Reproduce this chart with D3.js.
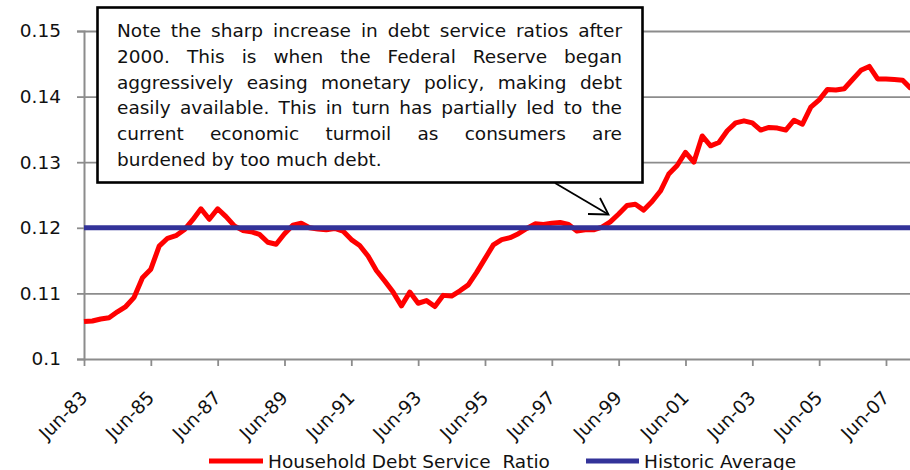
<!DOCTYPE html>
<html>
<head>
<meta charset="utf-8">
<script src="https://cdn.jsdelivr.net/npm/d3@7"></script>
<style>
  html, body { margin: 0; padding: 0; background: #fff; }
  svg { display: block; font-family: "DejaVu Sans", Verdana, sans-serif; }
</style>
</head>
<body>
<svg id="chart" width="910" height="470"></svg>
<script>
// ---------- data ----------
const startYear = 1983;          // first category: Jun-83, quarterly
const nPoints = 100;
const months = ["Mar", "Jun", "Sep", "Dec"];
const categories = [];
for (let i = 0; i < nPoints; i++) {
  const q = 1 + i;                // Jun = quarter index 1
  const yr = startYear + Math.floor(q / 4);
  categories.push(months[q % 4] + "-" + String(yr % 100).padStart(2, "0"));
}

const debtServiceRatio = [
  0.1057, 0.1058, 0.1061, 0.1063, 0.1072, 0.1080, 0.1094, 0.1124, 0.1137, 0.1172,
  0.1184, 0.1188, 0.1197, 0.1212, 0.1229, 0.1213, 0.1229, 0.1217, 0.1203, 0.1196,
  0.1194, 0.1190, 0.1178, 0.1175, 0.1191, 0.1204, 0.1207, 0.1200, 0.1198, 0.1197,
  0.1199, 0.1195, 0.1182, 0.1173, 0.1157, 0.1135, 0.1119, 0.1102, 0.1081, 0.1102,
  0.1085, 0.1089, 0.1080, 0.1097, 0.1096, 0.1104, 0.1113, 0.1132, 0.1153, 0.1174,
  0.1182, 0.1185, 0.1191, 0.1199, 0.1206, 0.1205, 0.1207, 0.1208, 0.1205, 0.1195,
  0.1197, 0.1197, 0.1201, 0.1209, 0.1221, 0.1234, 0.1236, 0.1227, 0.1240, 0.1256,
  0.1282, 0.1295, 0.1315, 0.1300, 0.1340, 0.1325, 0.1330, 0.1348, 0.1360, 0.1363,
  0.1360, 0.1349, 0.1353, 0.1352, 0.1349, 0.1364, 0.1358, 0.1384, 0.1395, 0.1411,
  0.1410, 0.1412, 0.1426, 0.1440, 0.1446, 0.1427, 0.1427, 0.1426, 0.1425, 0.1412
];
const historicAverage = categories.map(() => 0.12);

const yTicks = [0.1, 0.11, 0.12, 0.13, 0.14, 0.15];
const xTickLabels = ["Jun-83", "Jun-85", "Jun-87", "Jun-89", "Jun-91", "Jun-93",
                     "Jun-95", "Jun-97", "Jun-99", "Jun-01", "Jun-03", "Jun-05", "Jun-07"];

const seriesNames = ["Household Debt Service  Ratio", "Historic Average"];

const noteLines = [
  "Note the sharp increase in debt service ratios after",
  "2000. This is when the Federal Reserve began",
  "aggressively easing monetary policy, making debt",
  "easily available. This in turn has partially led to the",
  "current economic turmoil as consumers are",
  "burdened by too much debt."
];

// ---------- layout ----------
const svg = d3.select("#chart");
const plotLeft = 84, plotBottom = 359, plotTop = 31;
const step = 8.354;
const x = d3.scalePoint().domain(categories).range([plotLeft, plotLeft + step * (nPoints - 1)]).padding(0);
const y = d3.scaleLinear().domain([0.1, 0.15]).range([plotBottom, plotTop]);
const gridColor = "#8c8c8c";
const fontSize = 18.5;

// gridlines
svg.append("g")
  .attr("transform", `translate(${plotLeft},0)`)
  .call(d3.axisLeft(y).tickValues(yTicks.slice(1)).tickSize(-(910 - plotLeft)).tickFormat(""))
  .call(g => g.select(".domain").remove())
  .call(g => g.selectAll("line").attr("stroke", gridColor).attr("stroke-width", 1.8));

// y axis
svg.append("g")
  .attr("transform", `translate(${plotLeft},0)`)
  .call(d3.axisLeft(y).tickValues(yTicks).tickSize(7).tickPadding(16).tickFormat(d => String(+d.toFixed(2))))
  .call(g => g.select(".domain").attr("stroke", gridColor).attr("stroke-width", 2))
  .call(g => g.selectAll("line").attr("stroke", gridColor).attr("stroke-width", 1.8))
  .call(g => g.selectAll("text").attr("fill", "#111").style("font-size", fontSize + "px")
               .style("font-family", "'DejaVu Sans', sans-serif"));

// x axis
svg.append("g")
  .attr("transform", `translate(0,${plotBottom})`)
  .call(d3.axisBottom(x).tickValues(xTickLabels).tickSize(7).tickSizeOuter(0))
  .call(g => g.select(".domain").attr("stroke", gridColor).attr("stroke-width", 2))
  .call(g => g.selectAll("line").attr("stroke", gridColor).attr("stroke-width", 1.8))
  .call(g => g.selectAll("text")
    .attr("fill", "#111")
    .style("font-size", fontSize + "px")
    .style("font-family", "'DejaVu Sans', sans-serif")
    .attr("text-anchor", "end")
    .attr("dy", null).attr("y", null)
    .attr("transform", "translate(4,40) rotate(-45)"));

// series
const line = d3.line().x((d, i) => x(categories[i])).y(d => y(d));
svg.append("path").datum(debtServiceRatio)
  .attr("d", line).attr("fill", "none").attr("stroke", "#ff0000")
  .attr("stroke-width", 5).attr("stroke-linejoin", "round");
svg.append("path").datum(historicAverage)
  .attr("d", line).attr("fill", "none").attr("stroke", "#333399")
  .attr("stroke-width", 5);

// annotation box
const box = svg.append("g");
box.append("rect").attr("x", 97.5).attr("y", 7.5).attr("width", 545).attr("height", 175)
  .attr("fill", "#fff").attr("stroke", "#000").attr("stroke-width", 2.6);

const tx0 = 117, tx1 = 622, base0 = 37.3, lh = 25.7;
const note = box.append("text").attr("fill", "#111").style("font-size", fontSize + "px");
const meas = svg.append("text").style("font-size", fontSize + "px").attr("visibility", "hidden");
noteLines.forEach((ln, li) => {
  const words = ln.split(" ");
  const widths = words.map(w => { meas.text(w); return meas.node().getComputedTextLength(); });
  const spaceW = fontSize * 0.318;
  const total = d3.sum(widths);
  const last = li === noteLines.length - 1;
  const gap = last ? spaceW : (tx1 - tx0 - total) / (words.length - 1);
  let cx = tx0;
  words.forEach((w, wi) => {
    note.append("tspan").attr("x", cx).attr("y", base0 + li * lh).text(w);
    cx += widths[wi] + gap;
  });
});
meas.remove();

// arrow
const tip = [608.5, 214.5];
svg.append("line").attr("x1", 555).attr("y1", 183).attr("x2", tip[0]).attr("y2", tip[1])
  .attr("stroke", "#000").attr("stroke-width", 1.8);
svg.append("path")
  .attr("d", `M588,214 L${tip[0]},${tip[1]} L600,198`)
  .attr("fill", "none").attr("stroke", "#000").attr("stroke-width", 1.8);

// legend
const legY = 461;
const legend = [
  { name: seriesNames[0], color: "#ff0000", x0: 209, x1: 263, tx: 268 },
  { name: seriesNames[1], color: "#333399", x0: 586, x1: 639, tx: 644 }
];
const lg = svg.append("g");
legend.forEach(l => {
  lg.append("line").attr("x1", l.x0).attr("x2", l.x1).attr("y1", legY).attr("y2", legY)
    .attr("stroke", l.color).attr("stroke-width", 5);
  lg.append("text").attr("x", l.tx).attr("y", legY + 6.5).attr("fill", "#111")
    .style("font-size", fontSize + "px").style("white-space", "pre").attr("xml:space", "preserve")
    .text(l.name);
});
</script>
</body>
</html>
